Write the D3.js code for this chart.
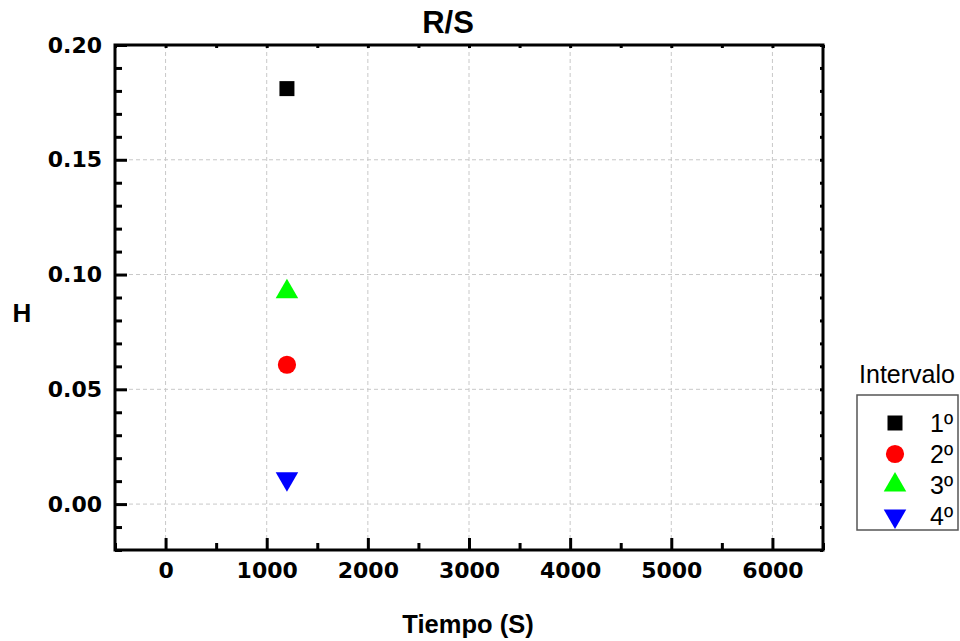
<!DOCTYPE html>
<html>
<head>
<meta charset="utf-8">
<script src="https://cdn.jsdelivr.net/npm/d3@7"></script>
<style>
  body { margin: 0; background: #fff; }
  svg { display: block; font-family: Arial, "Liberation Sans", sans-serif; }
</style>
</head>
<body>
<svg id="chart" width="960" height="641"></svg>
<script>
// Hurst exponent (R/S) per interval
const seriesNames = ["1º", "2º", "3º", "4º"];
const tiempo = [1200, 1200, 1200, 1200];
const hValues = [0.181, 0.0607, 0.0925, 0.011];
const symbolTypes = ["square", "circle", "triangle", "triangleDown"];
const colors = ["#000000", "#ff0000", "#00ff00", "#0000ff"];
const xTicks = [0, 1000, 2000, 3000, 4000, 5000, 6000];
const yTicks = [0.00, 0.05, 0.10, 0.15, 0.20];

const svg = d3.select("#chart");
const pLeft = 115, pRight = 823, pTop = 45, pBottom = 550;

const x = d3.scaleLinear().domain([-500, 6500]).range([pLeft, pRight]);
const y = d3.scaleLinear().domain([-0.02, 0.20]).range([pBottom, pTop]);

// grid
const grid = svg.append("g").attr("stroke", "#c8c8c8").attr("stroke-width", 1).attr("stroke-dasharray", "4,3");
xTicks.forEach(v => grid.append("line").attr("x1", x(v)).attr("x2", x(v)).attr("y1", pTop).attr("y2", pBottom));
yTicks.filter(v => v < 0.2).forEach(v => grid.append("line").attr("x1", pLeft).attr("x2", pRight).attr("y1", y(v)).attr("y2", y(v)));

// minor tick values
const xMinor = d3.range(-500, 6501, 500).filter(v => v % 1000 !== 0);
const yMinor = d3.range(-2, 21).map(v => v / 100).filter(v => Math.round(v * 100) % 5 !== 0);

// left axis (ticks pointing inward)
const yAxisL = d3.axisLeft(y).tickValues(yTicks).tickSize(-12).tickFormat(d3.format(".2f")).tickPadding(13);
const gL = svg.append("g").attr("transform", `translate(${pLeft},0)`).call(yAxisL);
gL.append("g").call(d3.axisLeft(y).tickValues(yMinor).tickSize(-7).tickFormat(""));
// bottom axis
const xAxisB = d3.axisBottom(x).tickValues(xTicks).tickSize(-12).tickFormat(d3.format("d")).tickPadding(12);
const gB = svg.append("g").attr("transform", `translate(0,${pBottom})`).call(xAxisB);
gB.append("g").call(d3.axisBottom(x).tickValues(xMinor).tickSize(-7).tickFormat(""));
// top and right axes with small marks
const gT = svg.append("g").attr("transform", `translate(0,${pTop})`)
  .call(d3.axisTop(x).tickValues(xTicks.concat(xMinor)).tickSize(-3).tickFormat(""));
const gR = svg.append("g").attr("transform", `translate(${pRight},0)`)
  .call(d3.axisRight(y).tickValues(yTicks.concat(yMinor)).tickSize(-3).tickFormat(""));

[gL, gB, gT, gR].forEach(g => {
  g.selectAll(".domain").remove();
  g.selectAll("line").attr("stroke", "#000").attr("stroke-width", 3);
  g.selectAll("text").attr("fill", "#000").attr("font-size", 22).attr("font-weight", "bold")
    .attr("font-family", "'DejaVu Sans', sans-serif");
});

// frame
svg.append("rect").attr("x", pLeft).attr("y", pTop).attr("width", pRight - pLeft).attr("height", pBottom - pTop)
  .attr("fill", "none").attr("stroke", "#000").attr("stroke-width", 3);

// symbol generator
const symbolPath = (type, size) => {
  const map = {square: d3.symbolSquare, circle: d3.symbolCircle, triangle: d3.symbolTriangle, triangleDown: d3.symbolTriangle};
  return d3.symbol(map[type], size)();
};
const sizes = {square: 225, circle: 260, triangle: 220, triangleDown: 220};

// points
seriesNames.forEach((n, i) => {
  const t = symbolTypes[i];
  const rot = t === "triangleDown" ? " rotate(180)" : "";
  svg.append("path").attr("d", symbolPath(t, sizes[t]))
    .attr("transform", `translate(${x(tiempo[i])},${y(hValues[i])})${rot}`)
    .attr("fill", colors[i]);
});

// titles
svg.append("text").attr("x", 448).attr("y", 33).attr("text-anchor", "middle")
  .attr("font-size", 31).attr("font-weight", "bold").text("R/S");
svg.append("text").attr("x", 468).attr("y", 633).attr("text-anchor", "middle")
  .attr("font-size", 25.5).attr("font-weight", "bold").text("Tiempo (S)");
svg.append("text").attr("x", 22).attr("y", 322).attr("text-anchor", "middle")
  .attr("font-size", 26).attr("font-weight", "bold").text("H");

// legend
const lg = svg.append("g");
lg.append("text").attr("x", 907).attr("y", 383).attr("text-anchor", "middle")
  .attr("font-size", 25).text("Intervalo");
lg.append("rect").attr("x", 857).attr("y", 395).attr("width", 101).attr("height", 135)
  .attr("fill", "#fff").attr("stroke", "#555").attr("stroke-width", 1.5);
seriesNames.forEach((n, i) => {
  const yy = 423 + i * 31;
  const t = symbolTypes[i];
  const rot = t === "triangleDown" ? " rotate(180)" : "";
  lg.append("path").attr("d", symbolPath(t, sizes[t]))
    .attr("transform", `translate(895,${yy})${rot}`).attr("fill", colors[i]);
  lg.append("text").attr("x", 930).attr("y", yy + 9).attr("font-size", 25).text(n);
});
</script>
</body>
</html>
